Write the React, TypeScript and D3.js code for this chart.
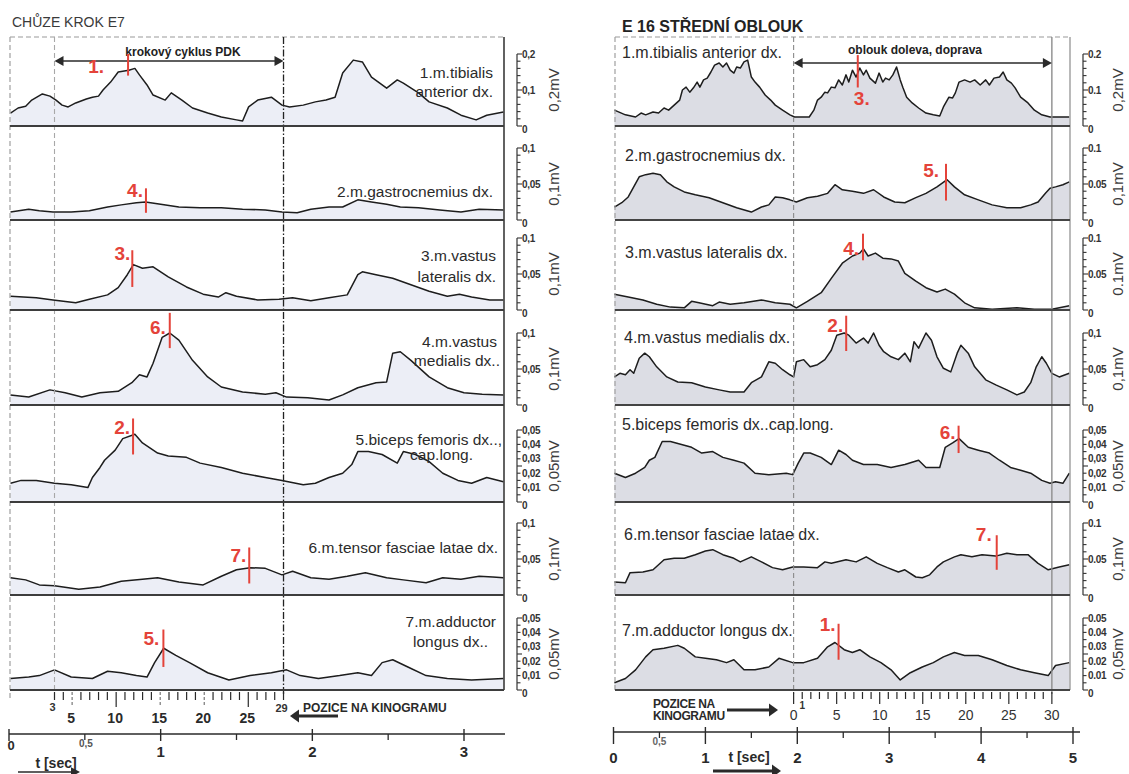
import React from "react";
import * as d3 from "d3";

type Pt = [number, number];

// ---------- EMG envelopes: [time in s, amplitude in mV] ----------
// Walking step (CHŮZE KROK E7)
const walkTibialisAnt: Pt[] = [
  [0.01, 0.036], [0.06, 0.05], [0.11, 0.055], [0.15, 0.072], [0.22, 0.089], [0.27, 0.083], [0.31, 0.072],
  [0.35, 0.058], [0.39, 0.053], [0.44, 0.064], [0.51, 0.075], [0.55, 0.08], [0.59, 0.083], [0.62, 0.1],
  [0.67, 0.122], [0.72, 0.15], [0.79, 0.155], [0.83, 0.16], [0.86, 0.142], [0.91, 0.114], [0.95, 0.086],
  [1.03, 0.072], [1.07, 0.092], [1.14, 0.072], [1.21, 0.05], [1.31, 0.036], [1.4, 0.025], [1.5, 0.017],
  [1.54, 0.014], [1.58, 0.053], [1.64, 0.072], [1.73, 0.08], [1.8, 0.058], [1.85, 0.053], [1.94, 0.058],
  [2.02, 0.067], [2.09, 0.072], [2.15, 0.08], [2.2, 0.147], [2.27, 0.183], [2.33, 0.178], [2.39, 0.136],
  [2.49, 0.105], [2.56, 0.128], [2.6, 0.119], [2.7, 0.092], [2.77, 0.067], [2.89, 0.05], [2.98, 0.03],
  [3.08, 0.017], [3.15, 0.03], [3.26, 0.039],
];
const walkGastrocnemius: Pt[] = [
  [0.01, 0.011], [0.13, 0.015], [0.2, 0.013], [0.29, 0.011], [0.41, 0.011], [0.53, 0.013], [0.65, 0.018],
  [0.74, 0.021], [0.84, 0.024], [0.9, 0.025], [1.0, 0.022], [1.12, 0.018], [1.26, 0.017], [1.4, 0.017],
  [1.54, 0.015], [1.69, 0.014], [1.8, 0.011], [1.9, 0.01], [1.99, 0.015], [2.11, 0.018], [2.2, 0.018],
  [2.3, 0.028], [2.39, 0.025], [2.49, 0.022], [2.58, 0.018], [2.7, 0.017], [2.84, 0.014], [2.98, 0.011],
  [3.1, 0.015], [3.26, 0.014],
];
const walkVastusLat: Pt[] = [
  [0.01, 0.019], [0.18, 0.017], [0.29, 0.014], [0.44, 0.01], [0.53, 0.015], [0.65, 0.021], [0.72, 0.031],
  [0.78, 0.049], [0.82, 0.063], [0.88, 0.058], [0.95, 0.06], [1.05, 0.046], [1.17, 0.032], [1.28, 0.022],
  [1.38, 0.018], [1.43, 0.024], [1.5, 0.019], [1.64, 0.014], [1.78, 0.015], [1.87, 0.017], [1.99, 0.013],
  [2.11, 0.017], [2.23, 0.021], [2.3, 0.049], [2.33, 0.053], [2.42, 0.049], [2.53, 0.044], [2.65, 0.035],
  [2.77, 0.026], [2.89, 0.019], [2.97, 0.022], [3.05, 0.018], [3.17, 0.014], [3.26, 0.014],
];
const walkVastusMed: Pt[] = [
  [0.01, 0.014], [0.13, 0.011], [0.27, 0.021], [0.37, 0.017], [0.48, 0.011], [0.6, 0.017], [0.72, 0.019],
  [0.81, 0.031], [0.86, 0.042], [0.91, 0.039], [0.95, 0.058], [1.01, 0.094], [1.06, 0.1], [1.12, 0.09],
  [1.21, 0.062], [1.31, 0.039], [1.4, 0.025], [1.54, 0.018], [1.69, 0.015], [1.76, 0.017], [1.83, 0.011],
  [1.97, 0.01], [2.11, 0.007], [2.2, 0.014], [2.3, 0.024], [2.42, 0.031], [2.49, 0.032], [2.53, 0.072],
  [2.58, 0.074], [2.65, 0.062], [2.77, 0.039], [2.89, 0.024], [3.0, 0.017], [3.12, 0.015], [3.26, 0.014],
];
const walkBicepsFem: Pt[] = [
  [0.01, 0.013], [0.08, 0.015], [0.18, 0.015], [0.3, 0.013], [0.41, 0.012], [0.52, 0.01], [0.55, 0.017],
  [0.6, 0.024], [0.63, 0.029], [0.7, 0.036], [0.75, 0.044], [0.83, 0.047], [0.88, 0.041], [0.98, 0.034],
  [1.05, 0.032], [1.17, 0.031], [1.26, 0.027], [1.4, 0.024], [1.54, 0.02], [1.69, 0.017], [1.8, 0.015],
  [1.94, 0.012], [2.02, 0.013], [2.11, 0.017], [2.2, 0.02], [2.26, 0.026], [2.3, 0.035], [2.37, 0.035],
  [2.46, 0.033], [2.56, 0.027], [2.6, 0.035], [2.68, 0.033], [2.77, 0.028], [2.86, 0.02], [2.96, 0.015],
  [3.05, 0.013], [3.15, 0.017], [3.26, 0.014],
];
const walkTensorFL: Pt[] = [
  [0.01, 0.024], [0.11, 0.021], [0.2, 0.014], [0.3, 0.013], [0.46, 0.008], [0.6, 0.011], [0.74, 0.019],
  [0.88, 0.022], [0.98, 0.024], [1.12, 0.018], [1.28, 0.014], [1.4, 0.026], [1.5, 0.035], [1.59, 0.038],
  [1.69, 0.037], [1.8, 0.028], [1.87, 0.033], [1.99, 0.024], [2.11, 0.022], [2.23, 0.026], [2.35, 0.031],
  [2.49, 0.024], [2.6, 0.021], [2.75, 0.017], [2.86, 0.024], [2.98, 0.022], [3.1, 0.026], [3.19, 0.025],
  [3.26, 0.024],
];
const walkAdductorL: Pt[] = [
  [0.01, 0.008], [0.13, 0.009], [0.2, 0.01], [0.3, 0.014], [0.41, 0.009], [0.55, 0.008], [0.65, 0.013],
  [0.74, 0.012], [0.84, 0.01], [0.91, 0.009], [0.96, 0.019], [1.02, 0.029], [1.1, 0.024], [1.19, 0.019],
  [1.31, 0.012], [1.45, 0.007], [1.59, 0.01], [1.73, 0.012], [1.83, 0.014], [1.92, 0.01], [2.04, 0.008],
  [2.18, 0.01], [2.3, 0.012], [2.39, 0.01], [2.46, 0.019], [2.53, 0.021], [2.63, 0.016], [2.75, 0.01],
  [2.89, 0.008], [3.05, 0.007], [3.26, 0.008],
];

// Middle arc (E 16 STŘEDNÍ OBLOUK)
const arcTibialisAnt: Pt[] = [
  [0.01, 0.044], [0.13, 0.031], [0.24, 0.025], [0.3, 0.036], [0.35, 0.031], [0.43, 0.039], [0.49, 0.036],
  [0.55, 0.05], [0.6, 0.044], [0.66, 0.058], [0.72, 0.072], [0.75, 0.1], [0.79, 0.108], [0.83, 0.094],
  [0.87, 0.106], [0.91, 0.122], [0.94, 0.108], [0.98, 0.128], [1.02, 0.133], [1.06, 0.15], [1.1, 0.169],
  [1.15, 0.175], [1.19, 0.164], [1.23, 0.175], [1.27, 0.155], [1.31, 0.147], [1.34, 0.164], [1.38, 0.161],
  [1.42, 0.178], [1.46, 0.183], [1.5, 0.136], [1.54, 0.122], [1.59, 0.108], [1.65, 0.086], [1.71, 0.072],
  [1.76, 0.058], [1.84, 0.044], [1.92, 0.031], [1.97, 0.025], [2.07, 0.025], [2.13, 0.025], [2.18, 0.044],
  [2.22, 0.072], [2.26, 0.08], [2.3, 0.094], [2.33, 0.092], [2.37, 0.108], [2.41, 0.106], [2.45, 0.128],
  [2.49, 0.114], [2.53, 0.142], [2.56, 0.122], [2.6, 0.155], [2.64, 0.136], [2.68, 0.161], [2.72, 0.142],
  [2.75, 0.155], [2.79, 0.133], [2.85, 0.119], [2.89, 0.147], [2.93, 0.122], [2.96, 0.133], [3.0, 0.128],
  [3.04, 0.142], [3.08, 0.164], [3.12, 0.128], [3.15, 0.106], [3.19, 0.08], [3.25, 0.064], [3.32, 0.05],
  [3.4, 0.036], [3.48, 0.031], [3.55, 0.028], [3.59, 0.053], [3.65, 0.08], [3.69, 0.078], [3.72, 0.092],
  [3.76, 0.122], [3.82, 0.128], [3.88, 0.122], [3.93, 0.128], [3.99, 0.114], [4.05, 0.128], [4.09, 0.114],
  [4.14, 0.133], [4.2, 0.136], [4.24, 0.15], [4.28, 0.128], [4.33, 0.119], [4.37, 0.106], [4.43, 0.08],
  [4.51, 0.064], [4.58, 0.044], [4.66, 0.031], [4.75, 0.025], [4.85, 0.025], [4.96, 0.025],
];
const arcGastrocnemius: Pt[] = [
  [0.01, 0.018], [0.09, 0.024], [0.16, 0.032], [0.22, 0.046], [0.28, 0.06], [0.35, 0.063], [0.43, 0.065],
  [0.51, 0.063], [0.58, 0.053], [0.66, 0.046], [0.77, 0.039], [0.89, 0.035], [1.04, 0.031], [1.19, 0.024],
  [1.34, 0.017], [1.5, 0.011], [1.61, 0.018], [1.69, 0.021], [1.76, 0.032], [1.84, 0.031], [1.92, 0.028],
  [1.99, 0.025], [2.11, 0.031], [2.22, 0.033], [2.33, 0.037], [2.41, 0.049], [2.49, 0.042], [2.6, 0.04],
  [2.72, 0.037], [2.83, 0.042], [2.94, 0.032], [3.06, 0.025], [3.17, 0.024], [3.29, 0.031], [3.4, 0.037],
  [3.52, 0.046], [3.63, 0.056], [3.71, 0.046], [3.82, 0.035], [3.97, 0.028], [4.12, 0.021], [4.28, 0.017],
  [4.43, 0.017], [4.54, 0.021], [4.62, 0.025], [4.7, 0.037], [4.75, 0.044], [4.81, 0.046], [4.89, 0.049],
  [4.96, 0.053],
];
const arcVastusLat: Pt[] = [
  [0.01, 0.022], [0.16, 0.018], [0.32, 0.014], [0.47, 0.008], [0.62, 0.004], [0.77, 0.003], [0.85, 0.012],
  [0.93, 0.01], [1.08, 0.006], [1.15, 0.011], [1.27, 0.008], [1.42, 0.01], [1.61, 0.014], [1.76, 0.01],
  [1.92, 0.008], [1.99, 0.003], [2.11, 0.012], [2.26, 0.024], [2.37, 0.044], [2.49, 0.065], [2.6, 0.075],
  [2.68, 0.079], [2.72, 0.085], [2.77, 0.075], [2.85, 0.079], [2.93, 0.072], [3.02, 0.071], [3.1, 0.068],
  [3.17, 0.051], [3.29, 0.04], [3.4, 0.031], [3.52, 0.025], [3.61, 0.029], [3.71, 0.022], [3.82, 0.01],
  [3.93, 0.003], [4.12, 0.001], [4.39, 0.003], [4.58, 0.001], [4.77, 0.001], [4.96, 0.006],
];
const arcVastusMed: Pt[] = [
  [0.01, 0.039], [0.07, 0.044], [0.13, 0.042], [0.18, 0.049], [0.22, 0.044], [0.28, 0.065], [0.34, 0.072],
  [0.39, 0.067], [0.47, 0.053], [0.58, 0.039], [0.7, 0.032], [0.85, 0.031], [1.0, 0.025], [1.15, 0.021],
  [1.27, 0.018], [1.42, 0.018], [1.5, 0.031], [1.61, 0.039], [1.69, 0.06], [1.76, 0.058], [1.84, 0.049],
  [1.92, 0.042], [1.96, 0.039], [1.99, 0.06], [2.07, 0.063], [2.14, 0.053], [2.22, 0.056], [2.3, 0.063],
  [2.37, 0.076], [2.43, 0.097], [2.51, 0.1], [2.56, 0.097], [2.64, 0.086], [2.72, 0.093], [2.77, 0.086],
  [2.83, 0.1], [2.89, 0.083], [2.94, 0.074], [3.02, 0.067], [3.1, 0.063], [3.17, 0.072], [3.23, 0.06],
  [3.27, 0.088], [3.32, 0.079], [3.4, 0.1], [3.46, 0.09], [3.52, 0.067], [3.59, 0.051], [3.67, 0.046],
  [3.74, 0.072], [3.78, 0.083], [3.86, 0.072], [3.93, 0.053], [4.05, 0.035], [4.16, 0.028], [4.28, 0.021],
  [4.39, 0.014], [4.47, 0.018], [4.54, 0.031], [4.6, 0.053], [4.66, 0.067], [4.71, 0.058], [4.77, 0.044],
  [4.85, 0.039], [4.96, 0.044],
];
const arcBicepsFem: Pt[] = [
  [0.01, 0.02], [0.13, 0.017], [0.24, 0.02], [0.34, 0.024], [0.39, 0.029], [0.45, 0.031], [0.53, 0.042],
  [0.62, 0.042], [0.74, 0.04], [0.85, 0.038], [0.96, 0.034], [1.08, 0.035], [1.19, 0.031], [1.31, 0.029],
  [1.42, 0.027], [1.54, 0.02], [1.69, 0.019], [1.88, 0.02], [1.95, 0.019], [2.01, 0.027], [2.07, 0.034],
  [2.14, 0.034], [2.26, 0.031], [2.37, 0.026], [2.45, 0.036], [2.53, 0.033], [2.6, 0.029], [2.72, 0.026],
  [2.87, 0.026], [3.02, 0.024], [3.17, 0.026], [3.32, 0.029], [3.4, 0.024], [3.55, 0.024], [3.61, 0.038],
  [3.69, 0.041], [3.76, 0.044], [3.86, 0.038], [3.97, 0.036], [4.09, 0.034], [4.2, 0.029], [4.32, 0.024],
  [4.43, 0.022], [4.54, 0.02], [4.66, 0.015], [4.75, 0.013], [4.81, 0.014], [4.89, 0.013], [4.96, 0.02],
];
const arcTensorFL: Pt[] = [
  [0.01, 0.018], [0.13, 0.017], [0.18, 0.031], [0.32, 0.032], [0.43, 0.035], [0.55, 0.049], [0.66, 0.051],
  [0.77, 0.051], [0.89, 0.056], [1.0, 0.061], [1.08, 0.063], [1.19, 0.056], [1.31, 0.051], [1.38, 0.046],
  [1.5, 0.053], [1.61, 0.046], [1.73, 0.038], [1.84, 0.035], [1.95, 0.039], [2.07, 0.039], [2.22, 0.038],
  [2.3, 0.046], [2.37, 0.044], [2.53, 0.049], [2.64, 0.046], [2.75, 0.053], [2.87, 0.044], [2.98, 0.038],
  [3.1, 0.032], [3.17, 0.035], [3.29, 0.025], [3.36, 0.024], [3.44, 0.028], [3.52, 0.039], [3.59, 0.046],
  [3.71, 0.053], [3.78, 0.056], [3.9, 0.053], [4.01, 0.056], [4.16, 0.054], [4.28, 0.058], [4.39, 0.056],
  [4.51, 0.056], [4.62, 0.044], [4.73, 0.035], [4.85, 0.039], [4.96, 0.042],
];
const arcAdductorL: Pt[] = [
  [0.01, 0.005], [0.13, 0.008], [0.24, 0.014], [0.35, 0.023], [0.43, 0.028], [0.55, 0.029], [0.7, 0.031],
  [0.77, 0.029], [0.89, 0.023], [1.0, 0.022], [1.12, 0.021], [1.23, 0.019], [1.31, 0.021], [1.42, 0.014],
  [1.54, 0.014], [1.69, 0.016], [1.8, 0.022], [1.95, 0.019], [2.07, 0.019], [2.22, 0.022], [2.33, 0.03],
  [2.41, 0.033], [2.51, 0.028], [2.6, 0.026], [2.68, 0.028], [2.79, 0.023], [2.91, 0.019], [3.02, 0.014],
  [3.12, 0.007], [3.23, 0.012], [3.36, 0.016], [3.48, 0.019], [3.59, 0.023], [3.71, 0.026], [3.82, 0.024],
  [3.97, 0.024], [4.12, 0.021], [4.28, 0.017], [4.43, 0.014], [4.58, 0.012], [4.73, 0.01], [4.81, 0.017],
  [4.96, 0.019],
];

const WALK_SERIES = [walkTibialisAnt, walkGastrocnemius, walkVastusLat, walkVastusMed, walkBicepsFem, walkTensorFL, walkAdductorL];
const ARC_SERIES = [arcTibialisAnt, arcGastrocnemius, arcVastusLat, arcVastusMed, arcBicepsFem, arcTensorFL, arcAdductorL];

// full-scale value of each channel (mV)
const SCALE_MAX = [0.2, 0.1, 0.1, 0.1, 0.05, 0.1, 0.05];
const WALK_UNITS = ["0,2mV", "0,1mV", "0,1mV", "0,1mV", "0,05mV", "0,1mV", "0,05mV"];
const ARC_UNITS = ["0,2mV", "0,1mV", "0.1mV", "0,1mV", "0,05mV", "0,1mV", "0,05mV"];
const WALK_DECIMAL = [",", ",", ",", ",", ",", ",", ","];
const ARC_DECIMAL = [".", ".", ".", ",", ",", ".", "."];

const WALK_NAMES = [
  ["1.m.tibialis", "anterior dx."],
  ["2.m.gastrocnemius dx."],
  ["3.m.vastus", "lateralis dx."],
  ["4.m.vastus", "medialis dx.."],
  ["5.biceps femoris dx..,", "cap.long."],
  ["6.m.tensor fasciae latae dx."],
  ["7.m.adductor", "longus dx.."],
];
const ARC_NAMES = [
  "1.m.tibialis anterior dx.",
  "2.m.gastrocnemius dx.",
  "3.m.vastus lateralis dx.",
  "4.m.vastus medialis dx.",
  "5.biceps femoris dx..cap.long.",
  "6.m.tensor fasciae latae dx.",
  "7.m.adductor longus dx.",
];

// order-of-activation markers: channel, time (s), span (mV)
const WALK_MARKERS = [
  { label: "1.", strip: 0, t: 0.785, lo: 0.14, hi: 0.2 },
  { label: "4.", strip: 1, t: 0.903, lo: 0.01, hi: 0.044 },
  { label: "3.", strip: 2, t: 0.813, lo: 0.032, hi: 0.083 },
  { label: "6.", strip: 3, t: 1.06, lo: 0.079, hi: 0.128 },
  { label: "2.", strip: 4, t: 0.818, lo: 0.033, hi: 0.058 },
  { label: "7.", strip: 5, t: 1.584, lo: 0.016, hi: 0.066 },
  { label: "5.", strip: 6, t: 1.018, lo: 0.016, hi: 0.042 },
];
const ARC_MARKERS = [
  { label: "3.", strip: 0, t: 2.658, lo: 0.107, hi: 0.197 },
  { label: "5.", strip: 1, t: 3.618, lo: 0.027, hi: 0.078 },
  { label: "4.", strip: 2, t: 2.715, lo: 0.069, hi: 0.106 },
  { label: "2.", strip: 3, t: 2.532, lo: 0.075, hi: 0.124 },
  { label: "6.", strip: 4, t: 3.755, lo: 0.034, hi: 0.053 },
  { label: "7.", strip: 5, t: 4.17, lo: 0.035, hi: 0.083 },
  { label: "1.", strip: 6, t: 2.449, lo: 0.021, hi: 0.046 },
];

// kinogram frame ranges and time ticks
const WALK_FRAMES = [3, 29];
const ARC_FRAMES = [0, 30];
const WALK_FRAME_TIME = [0.3, 1.81];
const ARC_FRAME_TIME = [1.96, 4.77];
const WALK_FRAME_LABELS = [5, 10, 15, 20, 25];
const ARC_FRAME_LABELS = [0, 5, 10, 15, 20, 25, 30];
const WALK_TIME_TICKS = [0, 1, 2, 3];
const ARC_TIME_TICKS = [0, 1, 2, 3, 4, 5];

// ---------- layout ----------
const W = 1129;
const H = 774;
const STRIP_EDGES = [37, 126, 220, 310, 405, 502, 595, 690];
const FONT = "'Liberation Sans', Arial, Helvetica, sans-serif";
const RED = "#e4433a";
const INK = "#1d1d1d";

// label placement next to each marker: [dx from line to label end, dy from line top]
const WALK_MARK_POS: Record<string, [number, number]> = {
  "1.": [-24, 12], "4.": [-3, 2], "3.": [-2, 3], "6.": [-4, 15], "2.": [-3, 9], "7.": [-3, 8], "5.": [-4, 9],
};
const ARC_MARK_POS: Record<string, [number, number]> = {
  "5.": [-7, 7], "4.": [-4, 15], "2.": [-3, 10], "6.": [-3, 7], "7.": [-5, -1], "1.": [-3, 1],
};
const WALK_NAME_POS: [number, number][][] = [
  [[493, 72.5], [493, 91]],
  [[493, 191]],
  [[496, 255], [496, 276]],
  [[497, 341], [500, 360]],
  [[502, 439], [473, 454]],
  [[498, 547]],
  [[496, 621], [488, 641]],
];
const ARC_NAME_POS: [number, number][] = [
  [622, 52], [625, 155], [625, 252], [624, 337], [622, 424], [624, 534], [622, 630],
];

function yScale(i: number) {
  const bottom = STRIP_EDGES[i + 1];
  return d3.scaleLinear().domain([0, SCALE_MAX[i]]).range([bottom, bottom - 72]);
}

function fmt(v: number, dec: string) {
  if (v === 0) return "0";
  return String(+v.toFixed(3)).replace(".", dec);
}

function Bracket({ i, x0, unitX, dec, unit }: { i: number; x0: number; unitX: number; dec: string; unit: string }) {
  const y = yScale(i);
  const max = SCALE_MAX[i];
  const minor = d3.range(0, 11).map((k) => (k * max) / 10);
  const labelled = max === 0.05 ? d3.range(0, 6).map((k) => k * 0.01) : [0, max / 2, max];
  return (
    <g>
      <line x1={x0} x2={x0} y1={y(0)} y2={y(max)} stroke="#333" strokeWidth={1.2} />
      {minor.map((v, k) => (
        <line key={k} x1={x0} x2={x0 + (k === 0 || k === 10 || k === 5 ? 5 : 3.5)} y1={y(v)} y2={y(v)} stroke="#333" strokeWidth={1.1} />
      ))}
      {labelled.map((v, k) => (
        <text key={k} x={x0 + 5} y={y(v)} dy={v === 0 ? 3 : 0} fontSize={10} fontWeight="bold" fill="#333" dominantBaseline="central" letterSpacing={-0.3}>
          {fmt(v, dec)}
        </text>
      ))}
      <text
        transform={`translate(${unitX},${(y(0) + y(max)) / 2}) rotate(-90)`}
        textAnchor="middle"
        dominantBaseline="central"
        fontSize={15}
        fill="#3c3c3c"
      >
        {unit}
      </text>
    </g>
  );
}

function Arrow({ x1, x2, y, w, headL, headR, color }: { x1: number; x2: number; y: number; w: number; headL?: boolean; headR?: boolean; color: string }) {
  const hl = 9;
  const hw = 3.5 + w;
  return (
    <g>
      <line x1={x1 + (headL ? hl - 1 : 0)} x2={x2 - (headR ? hl - 1 : 0)} y1={y} y2={y} stroke={color} strokeWidth={w} />
      {headL && <path d={`M${x1},${y} L${x1 + hl},${y - hw} L${x1 + hl},${y + hw} Z`} fill={color} />}
      {headR && <path d={`M${x2},${y} L${x2 - hl},${y - hw} L${x2 - hl},${y + hw} Z`} fill={color} />}
    </g>
  );
}

export default function App() {
  const xWalk = d3.scaleLinear().domain([0, 3]).range([9, 464]);
  const xArc = d3.scaleLinear().domain([0, 5]).range([613.5, 1073]);
  const kinoWalk = d3.scaleLinear().domain(WALK_FRAMES).range(WALK_FRAME_TIME.map((t) => xWalk(t)));
  const kinoArc = d3.scaleLinear().domain(ARC_FRAMES).range(ARC_FRAME_TIME.map((t) => xArc(t)));

  const walkL = 10, walkR = 504;
  const arcL = 615, arcR = 1070;
  const top = STRIP_EDGES[0];
  const bottom = STRIP_EDGES[7];

  const strips = (series: Pt[][], x: d3.ScaleLinear<number, number>, fill: string) =>
    series.map((data, i) => {
      const y = yScale(i);
      const b = STRIP_EDGES[i + 1];
      const area = d3.area<Pt>().x((d) => x(d[0])).y0(b).y1((d) => y(d[1]));
      const line = d3.line<Pt>().x((d) => x(d[0])).y((d) => y(d[1]));
      return (
        <g key={i}>
          <path d={area(data) || ""} fill={fill} />
          <path d={line(data) || ""} fill="none" stroke={INK} strokeWidth={1.5} strokeLinejoin="round" />
        </g>
      );
    });

  const separators = (l: number, r: number, color: string) =>
    STRIP_EDGES.slice(1).map((yy, k) => <line key={k} x1={l} x2={r} y1={yy} y2={yy} stroke={color} strokeWidth={2} />);

  const markers = (
    list: typeof WALK_MARKERS,
    x: d3.ScaleLinear<number, number>,
    pos: Record<string, [number, number]>,
    below?: string
  ) =>
    list.map((m, k) => {
      const y = yScale(m.strip);
      const mx = x(m.t);
      const yTop = y(m.hi);
      const yBot = y(m.lo);
      const isBelow = m.label === below;
      const p = pos[m.label] || [0, 0];
      return (
        <g key={k}>
          <line x1={mx} x2={mx} y1={yTop} y2={yBot} stroke={RED} strokeWidth={2} />
          <text
            x={isBelow ? mx + 4 : mx + p[0]}
            y={isBelow ? yBot + 11 : yTop + p[1]}
            textAnchor={isBelow ? "middle" : "end"}
            dominantBaseline="central"
            fontSize={19}
            fontWeight="bold"
            fill={RED}
          >
            {m.label}
          </text>
        </g>
      );
    });

  const walkFrames = d3.range(WALK_FRAMES[0], WALK_FRAMES[1] + 1);
  const arcFrames = d3.range(ARC_FRAMES[0], ARC_FRAMES[1] + 1);

  return (
    <svg
      width={W}
      height={H}
      viewBox={`0 0 ${W} ${H}`}
      style={{ position: "absolute", left: 0, top: 0, background: "#fff" }}
      fontFamily={FONT}
    >
      <rect width={W} height={H} fill="#fff" />

      {/* ================= left panel: walking step ================= */}
      <text x={12} y={22} fontSize={14} fill="#3a3a3a" dominantBaseline="central">CHŮZE KROK E7</text>
      {strips(WALK_SERIES, xWalk, "#eceef6")}
      <line x1={walkL} x2={walkR} y1={top} y2={top} stroke="#9a9a9a" strokeWidth={1.2} strokeDasharray="5 3" />
      <line x1={walkL} x2={walkL} y1={top} y2={bottom + 8} stroke="#a0a0a0" strokeWidth={1.2} strokeDasharray="5 3" />
      <line x1={kinoWalk(3)} x2={kinoWalk(3)} y1={top} y2={bottom + 10} stroke="#a8a8a8" strokeWidth={1.1} strokeDasharray="5 3" />
      <line x1={kinoWalk(29)} x2={kinoWalk(29)} y1={top} y2={bottom + 4} stroke="#222" strokeWidth={1.3} strokeDasharray="7 2 1.5 2" />
      <line x1={walkR} x2={walkR} y1={top} y2={bottom} stroke="#3a3a3a" strokeWidth={1.6} />
      {separators(walkL, walkR, "#3d3d3d")}

      <text x={(kinoWalk(3) + kinoWalk(29)) / 2 + 14} y={52} textAnchor="middle" fontSize={12} fontWeight="bold" fill="#222" dominantBaseline="central">
        krokový cyklus PDK
      </text>
      <Arrow x1={kinoWalk(3)} x2={kinoWalk(29)} y={61} w={1.5} headL headR color="#2a2a2a" />

      {WALK_NAMES.map((lines, i) =>
        lines.map((s, k) => (
          <text key={`${i}-${k}`} x={WALK_NAME_POS[i][k][0]} y={WALK_NAME_POS[i][k][1]} textAnchor="end" dominantBaseline="central" fontSize={15.5} fill="#2b2b2b">
            {s}
          </text>
        ))
      )}
      {markers(WALK_MARKERS, xWalk, WALK_MARK_POS)}
      {SCALE_MAX.map((_, i) => (
        <Bracket key={i} i={i} x0={517} unitX={553} dec={WALK_DECIMAL[i]} unit={WALK_UNITS[i]} />
      ))}

      {/* kinogram positions, walking */}
      {walkFrames.map((f) => {
        const long = f % 5 === 0;
        const solid = f === 10 || f === 25;
        return (
          <line
            key={f}
            x1={kinoWalk(f)}
            x2={kinoWalk(f)}
            y1={bottom + 2}
            y2={bottom + (long ? 17 : 10)}
            stroke={long && !solid ? "#777" : "#2a2a2a"}
            strokeWidth={1.2}
            strokeDasharray={long && !solid ? "3 2" : undefined}
          />
        );
      })}
      <text x={kinoWalk(3) - 2} y={707} textAnchor="middle" fontSize={11} fontWeight="bold" fill="#333" dominantBaseline="central">3</text>
      {WALK_FRAME_LABELS.map((f) => (
        <text key={f} x={kinoWalk(f) - 1} y={718} textAnchor="middle" fontSize={14} fontWeight="bold" fill="#2a2a2a" dominantBaseline="central">
          {f}
        </text>
      ))}
      <text x={kinoWalk(29) - 2} y={708} textAnchor="middle" fontSize={11} fontWeight="bold" fill="#333" dominantBaseline="central">29</text>
      <text x={303} y={708} fontSize={12} fontWeight="bold" fill="#2a2a2a" dominantBaseline="central">POZICE NA KINOGRAMU</text>
      <Arrow x1={290} x2={338} y={716} w={3} headL color="#2a2a2a" />

      {/* time axis, walking */}
      <line x1={xWalk(0)} x2={walkR + 1} y1={734} y2={734} stroke="#2a2a2a" strokeWidth={1.6} />
      {WALK_TIME_TICKS.map((t) => (
        <line key={t} x1={xWalk(t)} x2={xWalk(t)} y1={729} y2={741} stroke="#2a2a2a" strokeWidth={1.4} />
      ))}
      {[0.5, 1.5, 2.5].map((t) => (
        <line key={t} x1={xWalk(t)} x2={xWalk(t)} y1={734} y2={740} stroke="#2a2a2a" strokeWidth={1.3} />
      ))}
      {WALK_TIME_TICKS.map((t) => (
        <text key={t} x={xWalk(t) + (t === 0 ? 2 : 0)} y={t === 0 ? 745 : 751} textAnchor="middle" fontSize={t === 0 ? 13 : 15} fontWeight="bold" fill="#2a2a2a" dominantBaseline="central">
          {t}
        </text>
      ))}
      <text x={xWalk(0.5) + 1} y={743} textAnchor="middle" fontSize={10} fontWeight="bold" fill="#555" dominantBaseline="central">0,5</text>
      <text x={56} y={763} textAnchor="middle" fontSize={14} fontWeight="bold" fill="#2a2a2a" dominantBaseline="central">t [sec]</text>
      <Arrow x1={18} x2={80} y={772} w={1.3} headR color="#2a2a2a" />

      {/* ================= right panel: middle arc ================= */}
      <text x={622} y={26} fontSize={16} fontWeight="bold" fill="#222" dominantBaseline="central">E 16 STŘEDNÍ OBLOUK</text>
      {strips(ARC_SERIES, xArc, "#dcdde4")}
      <line x1={arcL} x2={arcR} y1={top} y2={top} stroke="#9a9a9a" strokeWidth={1.2} strokeDasharray="5 3" />
      <line x1={arcL} x2={arcL} y1={top} y2={bottom} stroke="#a0a0a0" strokeWidth={1.2} strokeDasharray="5 3" />
      <line x1={kinoArc(0)} x2={kinoArc(0)} y1={top} y2={bottom + 4} stroke="#8a8a8a" strokeWidth={1.1} strokeDasharray="5 3" />
      <line x1={kinoArc(30)} x2={kinoArc(30)} y1={top} y2={bottom + 4} stroke="#8d8d8d" strokeWidth={1.4} />
      <line x1={arcR} x2={arcR} y1={top} y2={bottom} stroke="#9c9c9c" strokeWidth={1.4} />
      {separators(arcL, arcR, "#444")}

      <text x={915} y={50} textAnchor="middle" fontSize={12} fontWeight="bold" fill="#222" dominantBaseline="central">
        oblouk doleva, doprava
      </text>
      <Arrow x1={kinoArc(0)} x2={kinoArc(30)} y={63} w={1.5} headL headR color="#2a2a2a" />

      {ARC_NAMES.map((s, i) => (
        <text key={i} x={ARC_NAME_POS[i][0]} y={ARC_NAME_POS[i][1]} dominantBaseline="central" fontSize={16} fill="#2b2b2b">
          {s}
        </text>
      ))}
      {markers(ARC_MARKERS, xArc, ARC_MARK_POS, "3.")}
      {SCALE_MAX.map((_, i) => (
        <Bracket key={i} i={i} x0={1083} unitX={1117} dec={ARC_DECIMAL[i]} unit={ARC_UNITS[i]} />
      ))}

      {/* kinogram positions, arc */}
      {arcFrames.map((f) => {
        const long = f % 5 === 0;
        return (
          <line key={f} x1={kinoArc(f)} x2={kinoArc(f)} y1={bottom + 2} y2={bottom + (long ? 14 : 9)} stroke="#2a2a2a" strokeWidth={1.2} />
        );
      })}
      {ARC_FRAME_LABELS.map((f) => (
        <text key={f} x={kinoArc(f)} y={715} textAnchor="middle" fontSize={14} fill="#333" dominantBaseline="central">
          {f}
        </text>
      ))}
      <text x={kinoArc(1)} y={705} textAnchor="middle" fontSize={10} fontWeight="bold" fill="#333" dominantBaseline="central">1</text>
      <text x={653} y={704} fontSize={12} fontWeight="bold" fill="#2a2a2a" dominantBaseline="central" letterSpacing={-0.4}>POZICE NA</text>
      <text x={653} y={716} fontSize={12} fontWeight="bold" fill="#2a2a2a" dominantBaseline="central" letterSpacing={-0.4}>KINOGRAMU</text>
      <Arrow x1={727} x2={778} y={710} w={3} headR color="#2a2a2a" />

      {/* time axis, arc */}
      <line x1={xArc(0)} x2={1080} y1={732} y2={732} stroke="#2a2a2a" strokeWidth={1.6} />
      {ARC_TIME_TICKS.map((t) => (
        <line key={t} x1={xArc(t)} x2={xArc(t)} y1={727} y2={744} stroke="#2a2a2a" strokeWidth={1.4} />
      ))}
      {[0.5, 1.5, 2.5, 3.5, 4.5].map((t) => (
        <line key={t} x1={xArc(t)} x2={xArc(t)} y1={732} y2={738} stroke="#2a2a2a" strokeWidth={1.3} />
      ))}
      {ARC_TIME_TICKS.map((t) => (
        <text key={t} x={xArc(t)} y={757} textAnchor="middle" fontSize={15} fontWeight="bold" fill="#2a2a2a" dominantBaseline="central">
          {t}
        </text>
      ))}
      <text x={xArc(0.5)} y={741} textAnchor="middle" fontSize={10} fontWeight="bold" fill="#666" dominantBaseline="central">0,5</text>
      <text x={749} y={757} textAnchor="middle" fontSize={14} fontWeight="bold" fill="#2a2a2a" dominantBaseline="central">t [sec]</text>
      <Arrow x1={713} x2={781} y={771} w={3} headR color="#2a2a2a" />
    </svg>
  );
}
